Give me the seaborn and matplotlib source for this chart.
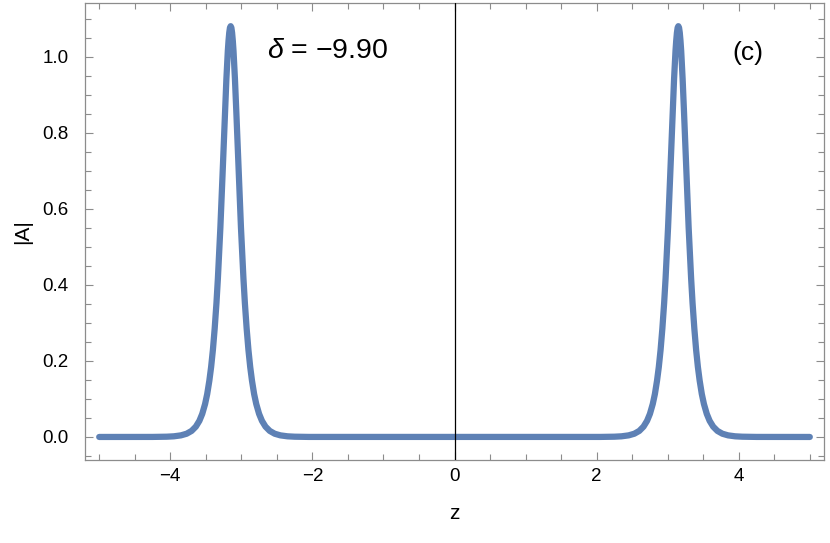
import numpy as np
import pandas as pd
import matplotlib
matplotlib.use("Agg")
import matplotlib.pyplot as plt
import seaborn as sns
from matplotlib.ticker import MultipleLocator

# |A| profile: two identical solitons near z = -3.15 and z = 3.15
left_z = [-4.25, -4.05, -3.95, -3.85, -3.77, -3.70, -3.64, -3.59, -3.55, -3.51,
          -3.48, -3.45, -3.425, -3.40, -3.375, -3.35, -3.33, -3.31, -3.295, -3.28,
          -3.265, -3.25, -3.24, -3.23, -3.22, -3.21, -3.20, -3.19, -3.18, -3.17,
          -3.16, -3.15, -3.14, -3.13, -3.12, -3.11, -3.10, -3.09, -3.08, -3.07,
          -3.06, -3.05, -3.035, -3.02, -3.005, -2.99, -2.97, -2.95, -2.925, -2.90,
          -2.875, -2.85, -2.82, -2.79, -2.75, -2.71, -2.66, -2.60, -2.53, -2.45,
          -2.35, -2.25, -2.05]
right_z = [2.05, 2.25, 2.35, 2.45, 2.53, 2.60, 2.66, 2.71, 2.75, 2.79,
           2.82, 2.85, 2.875, 2.90, 2.925, 2.95, 2.97, 2.99, 3.005, 3.02,
           3.035, 3.05, 3.06, 3.07, 3.08, 3.09, 3.10, 3.11, 3.12, 3.13,
           3.14, 3.15, 3.16, 3.17, 3.18, 3.19, 3.20, 3.21, 3.22, 3.23,
           3.24, 3.25, 3.265, 3.28, 3.295, 3.31, 3.33, 3.35, 3.375, 3.40,
           3.425, 3.45, 3.48, 3.51, 3.55, 3.59, 3.64, 3.70, 3.77, 3.85,
           3.95, 4.05, 4.25]
peak_amp = [0.0001, 0.0007, 0.0017, 0.0042, 0.0085, 0.0159, 0.0272, 0.0425, 0.0607, 0.0867,
            0.113, 0.148, 0.184, 0.229, 0.285, 0.352, 0.416, 0.490, 0.550, 0.616,
            0.686, 0.757, 0.806, 0.853, 0.899, 0.942, 0.981, 1.015, 1.042, 1.063,
            1.076, 1.080, 1.076, 1.063, 1.042, 1.015, 0.981, 0.942, 0.899, 0.853,
            0.806, 0.757, 0.686, 0.616, 0.550, 0.490, 0.416, 0.352, 0.285, 0.229,
            0.184, 0.148, 0.113, 0.0867, 0.0607, 0.0425, 0.0272, 0.0159, 0.0085, 0.0042,
            0.0017, 0.0007, 0.0001]
edge_z = [-5.0, 0.0, 5.0]
edge_amp = [0.0, 0.0, 0.0]
delta_label = "\u2212" + "9.90"
panel_label = "(c)"

z = [edge_z[0]] + left_z + [edge_z[1]] + right_z + [edge_z[2]]
amp = [edge_amp[0]] + peak_amp + [edge_amp[1]] + peak_amp + [edge_amp[2]]
df = pd.DataFrame({"z": z, "A": amp})

sns.set_style("ticks")
plt.rcParams["font.family"] = ["Liberation Sans", "DejaVu Sans"]
plt.rcParams["mathtext.fontset"] = "custom"
plt.rcParams["mathtext.it"] = "Liberation Sans:italic"
plt.rcParams["mathtext.rm"] = "Liberation Sans"
plt.rcParams["text.color"] = "black"
plt.rcParams["axes.labelcolor"] = "black"

frame = "#8c8c8c"
fig = plt.figure(figsize=(8.3, 5.43), dpi=100)
ax = fig.add_axes([0.1024, 0.1529, 0.8904, 0.8416])

sns.lineplot(data=df, x="z", y="A", sort=False, color="#5E81B5", lw=4.5,
             ax=ax, legend=False)
ax.axvline(0, color="black", lw=0.9, zorder=5)

ax.set_xlim(-5.2, 5.2)
ax.set_ylim(-0.0605, 1.141)
ax.xaxis.set_major_locator(MultipleLocator(2))
ax.xaxis.set_minor_locator(MultipleLocator(0.5))
ax.yaxis.set_major_locator(MultipleLocator(0.2))
ax.yaxis.set_minor_locator(MultipleLocator(0.05))
ax.xaxis.set_major_formatter(lambda v, p: f"{v:.0f}".replace("-", "\u2212"))
ax.yaxis.set_major_formatter(lambda v, p: f"{v:.1f}")

for s in ax.spines.values():
    s.set_color(frame)
    s.set_linewidth(0.9)
ax.tick_params(which="both", direction="in", top=True, right=True,
               color=frame, width=0.8, labelsize=13.5, labelcolor="black")
ax.tick_params(which="major", length=6)
ax.tick_params(which="minor", length=4)
ax.tick_params(axis="x", which="major", pad=6)
ax.tick_params(axis="y", which="major", pad=12)

ax.set_xlabel("z", fontsize=15)
ax.set_ylabel("|A|", fontsize=15)
ax.xaxis.set_label_coords(0.5, -0.096)
ax.yaxis.set_label_coords(-0.072, 0.5)

ax.text(-2.64, 0.997, r"$\delta$ = " + delta_label, fontsize=20.5,
        ha="left", va="baseline", color="black")
ax.text(3.91, 0.991, panel_label, fontsize=19, ha="left", va="baseline",
        color="black")

fig.savefig("out.png", dpi=100)
